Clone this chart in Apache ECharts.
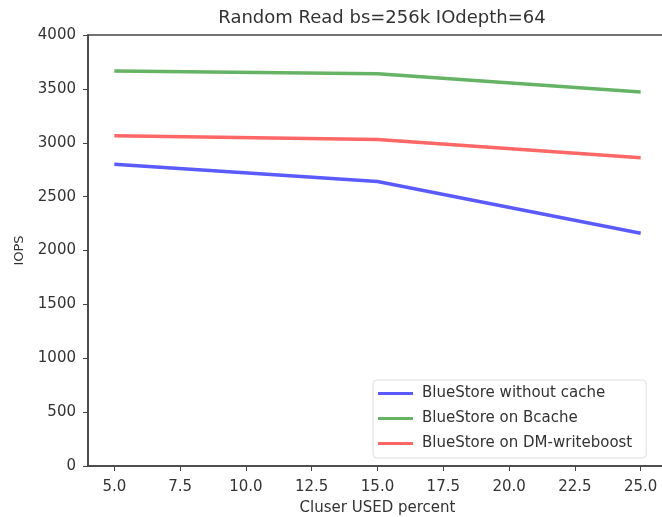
<!DOCTYPE html>
<html>
<head>
<meta charset="utf-8">
<script src="https://cdn.jsdelivr.net/npm/echarts@6/dist/echarts.min.js"></script>
<style>
  html, body { margin: 0; padding: 0; background: #fff; }
  #main { width: 662px; height: 517px; }
</style>
</head>
<body>
<div id="main"></div>
<script>
var usedPercent = [5, 15, 25];
var noCache = [2800, 2640, 2160];
var bcache = [3665, 3640, 3470];
var dmWriteboost = [3065, 3030, 2860];
var xTicks = [5, 7.5, 10, 12.5, 15, 17.5, 20, 22.5, 25];
var seriesNames = ['BlueStore without cache', 'BlueStore on Bcache', 'BlueStore on DM-writeboost'];

function pairs(ys) {
  return usedPercent.map(function (x, i) { return [x, ys[i]]; });
}

var font = 'DejaVu Sans';
var myChart = echarts.init(document.getElementById('main'));

var option = {
  animation: false,
  textStyle: { fontFamily: font },
  title: {
    text: 'Random Read bs=256k IOdepth=64',
    left: 377,
    textAlign: 'center',
    top: 4,
    textStyle: { fontFamily: font, fontSize: 18, fontWeight: 'normal', color: '#333' }
  },
  grid: {
    left: 88, top: 35, width: 579, height: 431,
    outerBoundsMode: 'none',
    containLabel: false,
    show: true, borderColor: '#444', borderWidth: 1.5, backgroundColor: '#fff'
  },
  legend: {
    orient: 'vertical',
    left: 373, top: 380,
    padding: [6, 14, 7, 5],
    itemGap: 10,
    itemWidth: 35, itemHeight: 3,
    icon: 'rect',
    backgroundColor: '#fff',
    borderColor: '#ddd', borderWidth: 1, borderRadius: 4,
    textStyle: { fontFamily: font, fontSize: 15, color: '#333', padding: [0, 0, 0, 4] },
    data: seriesNames
  },
  xAxis: {
    type: 'value',
    min: 4, max: 26,
    name: 'Cluser USED percent',
    nameLocation: 'middle',
    nameGap: 35,
    nameTextStyle: { fontFamily: font, fontSize: 15, color: '#333' },
    splitLine: { show: false },
    axisLine: { show: true, lineStyle: { color: '#444', width: 1.5 } },
    axisTick: { show: true, length: 5, customValues: xTicks, lineStyle: { color: '#444' } },
    axisLabel: {
      customValues: xTicks, margin: 14,
      fontFamily: font, fontSize: 15, color: '#333',
      formatter: function (v) { return v.toFixed(1); }
    }
  },
  yAxis: {
    type: 'value',
    min: 0, max: 4000, interval: 500,
    name: 'IOPS',
    nameLocation: 'middle',
    nameGap: 62,
    nameTextStyle: { fontFamily: font, fontSize: 13, color: '#333' },
    splitLine: { show: false },
    axisLine: { show: true, lineStyle: { color: '#444', width: 1.5 } },
    axisTick: { show: true, length: 5, lineStyle: { color: '#444' } },
    axisLabel: {
      margin: 12, fontFamily: font, fontSize: 15, color: '#333',
      formatter: function (v) { return String(v); }
    }
  },
  series: [
    { name: seriesNames[0], type: 'line', symbol: 'none', data: pairs(noCache),
      lineStyle: { color: '#5a5aff', width: 3.5 }, itemStyle: { color: '#5a5aff' } },
    { name: seriesNames[1], type: 'line', symbol: 'none', data: pairs(bcache),
      lineStyle: { color: '#66b366', width: 3.5 }, itemStyle: { color: '#66b366' } },
    { name: seriesNames[2], type: 'line', symbol: 'none', data: pairs(dmWriteboost),
      lineStyle: { color: '#ff6666', width: 3.5 }, itemStyle: { color: '#ff6666' } }
  ]
};

myChart.setOption(option);
</script>
</body>
</html>
